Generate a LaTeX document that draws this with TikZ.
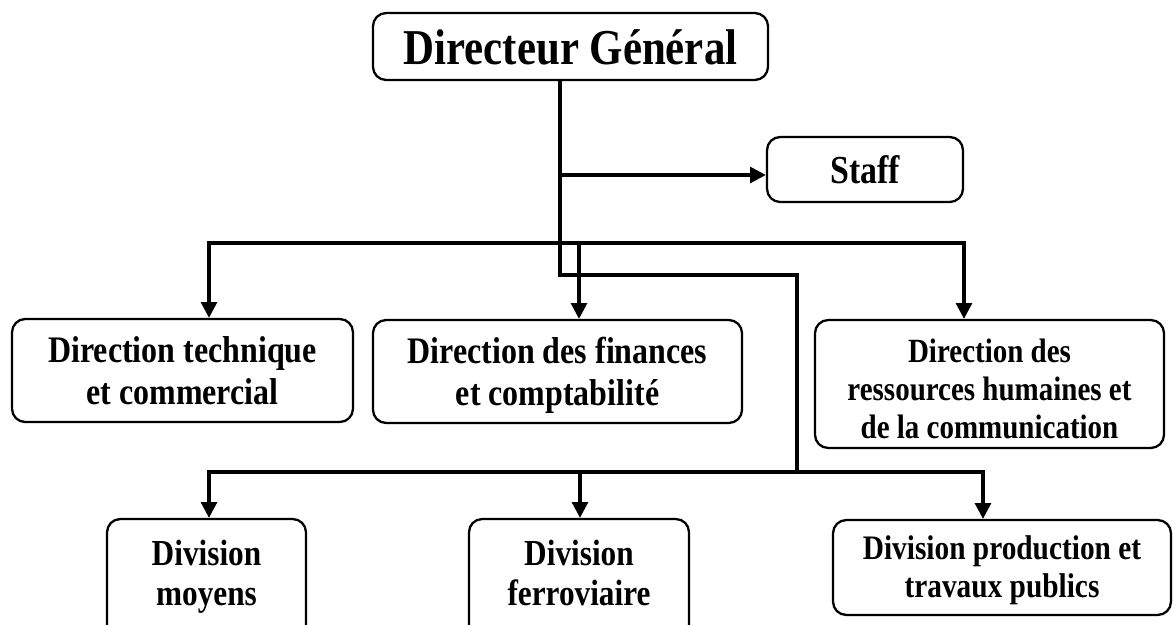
\documentclass[tikz,border=0pt]{standalone}
\usepackage{fontspec}
\setmainfont{Liberation Serif}
\usetikzlibrary{arrows.meta}

% text of a box, stretched upright, baseline of first line raised by #1
\newcommand{\boxtext}[2]{\raisebox{#1}[0pt][0pt]{\scalebox{1}[1.17]{\begin{tabular}[t]{@{}c@{}}#2\end{tabular}}}}

\begin{document}
\begin{tikzpicture}[scale=0.2,
    every node/.style={inner sep=0pt},
    unit/.style={draw=black, line width=1.3pt, rounded corners=7.5pt},
    wire/.style={draw=black, line width=1.9pt},
    drop/.style={-{Triangle[length=9pt,width=9pt]}},
    twodrops/.style={{Triangle[length=9pt,width=9pt]}-{Triangle[length=9pt,width=9pt]}}]
    \useasboundingbox (0,0) rectangle (117.3,-62.4);
    \clip (0,0) rectangle (117.3,-62.4);
    % boxes
    \node[unit, minimum width=224.8pt, minimum height=38.1pt, font=\fontsize{24.4}{29}\selectfont\bfseries] (dg) at (57.05,-4.65) {\boxtext{-10.5pt}{Directeur Général}};
    \node[unit, minimum width=111.5pt, minimum height=37pt, font=\fontsize{19.3}{23}\selectfont\bfseries] (staff) at (86.5,-16.95) {\boxtext{-7.7pt}{Staff}};
    \node[unit, minimum width=194pt, minimum height=58.6pt, font=\fontsize{18.2}{20.4}\selectfont\bfseries] (tech) at (18.25,-37.05) {\boxtext{4.3pt}{Direction technique\\et commercial}};
    \node[unit, minimum width=210pt, minimum height=58.6pt, font=\fontsize{18.2}{20.4}\selectfont\bfseries] (fin) at (55.75,-37.15) {\boxtext{4.8pt}{Direction des finances\\et comptabilité}};
    \node[unit, minimum width=198.6pt, minimum height=72.8pt, font=\fontsize{16.5}{18.5}\selectfont\bfseries] (rh) at (98.95,-38.4) {\boxtext{12.5pt}{Direction des\\ressources humaines et\\de la communication}};
    \node[unit, minimum width=113.2pt, minimum height=80.2pt, font=\fontsize{17.8}{19.5}\selectfont\bfseries] (moyens) at (20.65,-58.95) {\boxtext{13.9pt}{Division\\moyens}};
    \node[unit, minimum width=125.2pt, minimum height=80.2pt, font=\fontsize{17.8}{19.5}\selectfont\bfseries] (ferro) at (57.9,-58.95) {\boxtext{13.9pt}{Division\\ferroviaire}};
    \node[unit, minimum width=192.3pt, minimum height=54pt, font=\fontsize{16.7}{18.5}\selectfont\bfseries] (prod) at (100.2,-56.75) {\boxtext{4.3pt}{Division production et\\travaux publics}};
    % bends and drops
    \coordinate (split) at (56,-27.5);
    \coordinate (turn) at (79.7,-27.5);
    \coordinate (hub) at (79.7,-47.2);
    \coordinate (staffjoin) at (56,-17.5);
    \coordinate (dropA) at (20.9,-24.3);
    \coordinate (dropB) at (57.9,-24.3);
    \coordinate (dropC) at (96.4,-24.3);
    \coordinate (dropD) at (20.9,-47.2);
    \coordinate (dropE) at (58.0,-47.2);
    \coordinate (dropF) at (98.3,-47.2);
    % connectors
    \draw[wire] (dg.south -| split) -- (split) -- (turn) -- (hub);
    \draw[wire, drop] (staffjoin) -- (staffjoin -| staff.west);
    \draw[wire, twodrops] (dropA |- tech.north) -- (dropA) -- (dropC) -- (dropC |- rh.north);
    \draw[wire, drop] (dropB) -- (dropB |- fin.north);
    \draw[wire, twodrops] (dropD |- moyens.north) -- (dropD) -- (dropF) -- (dropF |- prod.north);
    \draw[wire, drop] (dropE) -- (dropE |- ferro.north);
\end{tikzpicture}
\end{document}
